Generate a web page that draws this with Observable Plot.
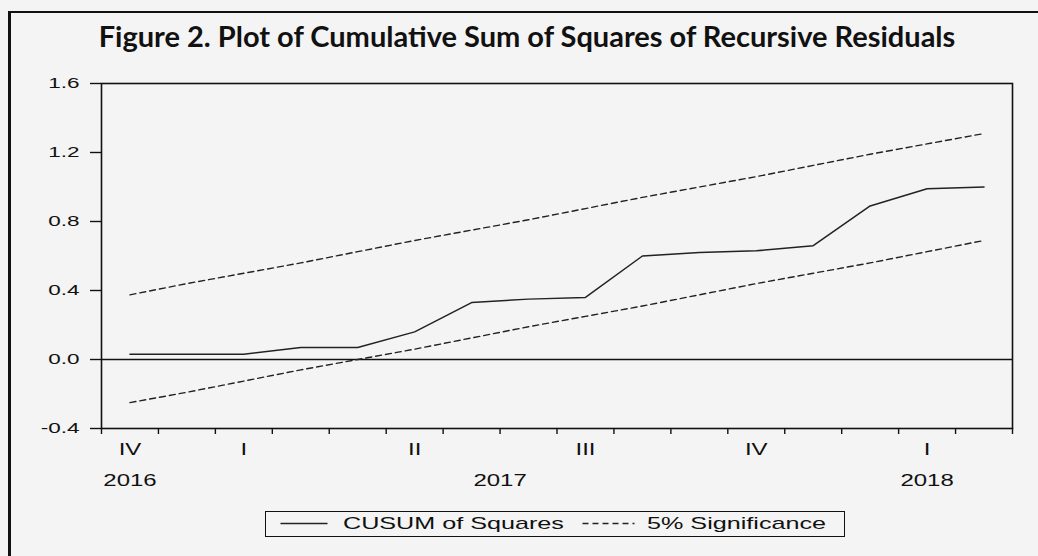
<!DOCTYPE html>
<html><head><meta charset="utf-8">
<script src="https://cdn.jsdelivr.net/npm/d3@7"></script>
<script src="https://cdn.jsdelivr.net/npm/@observablehq/plot@0.6"></script>
<style>
html,body{margin:0;padding:0;background:#f4f4f4;}
#wrap{position:relative;width:1038px;height:556px;overflow:hidden;background:#f4f4f4;}
#border{position:absolute;left:8px;top:11px;right:-10px;bottom:-10px;border-left:3px solid #111;border-top:2.5px solid #111;}
#title{position:absolute;left:0;top:21px;width:1054px;text-align:center;font:bold 29px Lato, sans-serif;line-height:29px;color:#111;white-space:nowrap;}
#chart{position:absolute;left:0;top:0;}
#legend{position:absolute;left:265px;top:511px;width:580px;height:26px;box-sizing:border-box;border:1.5px solid #111;}
#legend svg{position:absolute;left:0;top:0;}
.ltxt{position:absolute;top:0;font:17px "Liberation Sans",Arial,sans-serif;line-height:23px;transform:scaleX(1.48);transform-origin:0 50%;white-space:nowrap;color:#111;}
</style></head>
<body>
<div id="wrap">
  <div id="border"></div>
  <div id="title"></div>
  <div id="chart"></div>
  <div id="legend"></div>
</div>
<script>
const titleText = "Figure 2. Plot of Cumulative Sum of Squares of Recursive Residuals";
const periods = ["2016-12","2017-01","2017-02","2017-03","2017-04","2017-05","2017-06","2017-07","2017-08","2017-09","2017-10","2017-11","2017-12","2018-01","2018-02","2018-03"];
const cusumSq = [0.03,0.03,0.03,0.07,0.07,0.16,0.33,0.35,0.36,0.60,0.62,0.63,0.66,0.89,0.99,1.00];
const upper5 = [0.375,0.44,0.50,0.56,0.625,0.69,0.75,0.81,0.875,0.94,1.00,1.06,1.125,1.19,1.25,1.31];
const lower5 = [-0.25,-0.19,-0.125,-0.06,0.00,0.06,0.125,0.19,0.25,0.31,0.375,0.44,0.50,0.56,0.625,0.69];
const yTicks = [-0.4,0.0,0.4,0.8,1.2,1.6];
const quarterNames = ["I","II","III","IV"];
const seriesNames = ["CUSUM of Squares","5% Significance"];

document.getElementById("title").textContent = titleText;

const rows = periods.map((p,i)=>({i, x:i+0.5, period:p, cusum:cusumSq[i], upper:upper5[i], lower:lower5[i]}));

const qGroups = d3.groups(rows, r => { const [y,m] = r.period.split("-").map(Number); return y + "Q" + Math.floor((m-1)/3); });
const quarterTicks = qGroups.map(([k, rs]) => ({pos:(rs[0].i + rs[rs.length-1].i + 1)/2, label:quarterNames[+k.split("Q")[1]]}));
const yGroups = d3.groups(rows, r => r.period.slice(0,4));
const yearTicks = yGroups.map(([y, rs]) => ({pos:(rs[0].i + rs[rs.length-1].i + 1)/2, label:y}));
const qMap = new Map(quarterTicks.map(d=>[d.pos,d.label]));
const yMap = new Map(yearTicks.map(d=>[d.pos,d.label]));

const ink = "#111";
const svg = Plot.plot({
  width:1038, height:500,
  marginLeft:101, marginRight:26, marginTop:83, marginBottom:72,
  style:{background:"transparent", fontFamily:'"Liberation Sans", Arial, sans-serif', color:ink},
  x:{domain:[0, periods.length], axis:null},
  y:{domain:[-0.4, 1.6], axis:null},
  marks:[
    Plot.ruleY([0], {stroke:ink, strokeWidth:1.3}),
    Plot.line(rows, {x:"x", y:"upper", stroke:"#222", strokeWidth:1.4, strokeDasharray:"6,4"}),
    Plot.line(rows, {x:"x", y:"lower", stroke:"#222", strokeWidth:1.4, strokeDasharray:"6,4"}),
    Plot.line(rows, {x:"x", y:"cusum", stroke:"#222", strokeWidth:1.5}),
    Plot.frame({stroke:ink, strokeWidth:1.6}),
    Plot.axisY({ticks:yTicks, tickSize:11, tickPadding:11, tickFormat:d=>d.toFixed(1), fontSize:15, strokeWidth:1.4, label:null}),
    Plot.axisX({ticks:d3.range(periods.length+1), tickSize:6, tickFormat:()=>"", strokeWidth:1.4, label:null}),
    Plot.axisX({ticks:quarterTicks.map(d=>d.pos), tickSize:0, tickPadding:15, tickFormat:v=>qMap.get(v), fontSize:16, label:null}),
    Plot.axisX({ticks:yearTicks.map(d=>d.pos), tickSize:0, tickPadding:46, tickFormat:v=>yMap.get(v), fontSize:16, label:null})
  ]
});
// widen axis text like the original EViews graph (horizontal stretch around each text's anchor)
const SX = 1.5;
svg.querySelectorAll("text").forEach(t => {
  const tr = t.getAttribute("transform") || "";
  const x = t.getAttribute("x");
  if (x != null && /^-?[\d.]+$/.test(x)) t.setAttribute("x", +x / SX);
  t.setAttribute("transform", (tr + ` scale(${SX},1)`).trim());
});
document.getElementById("chart").appendChild(svg);

// legend
const leg = document.getElementById("legend");
const ns = "http://www.w3.org/2000/svg";
const ls = document.createElementNS(ns, "svg");
ls.setAttribute("width", 577); ls.setAttribute("height", 23);
const mk = (x1, x2, dash) => { const l = document.createElementNS(ns, "line"); l.setAttribute("x1", x1); l.setAttribute("x2", x2); l.setAttribute("y1", 11.5); l.setAttribute("y2", 11.5); l.setAttribute("stroke", "#222"); l.setAttribute("stroke-width", 1.5); if (dash) l.setAttribute("stroke-dasharray", dash); ls.appendChild(l); };
mk(14.5, 61.5, null);
mk(316.5, 368.5, "6,4");
leg.appendChild(ls);
[[seriesNames[0], 76.5], [seriesNames[1], 380.5]].forEach(([s, left]) => {
  const sp = document.createElement("span"); sp.className = "ltxt"; sp.style.left = left + "px"; sp.textContent = s; leg.appendChild(sp);
});
</script>
</body></html>
